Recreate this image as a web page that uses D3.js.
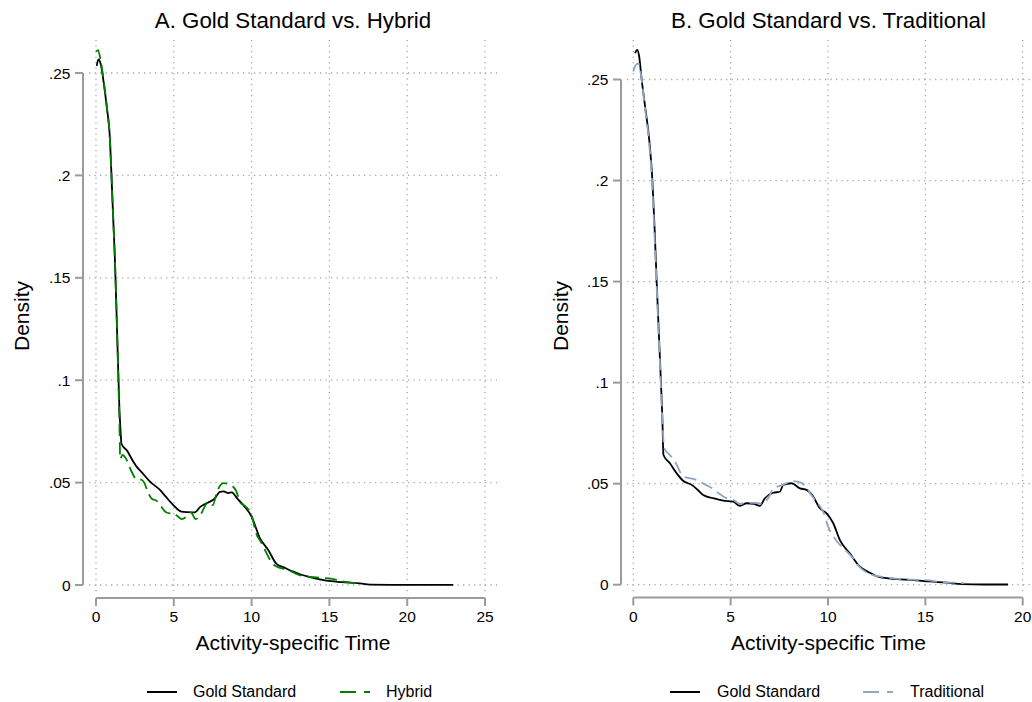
<!DOCTYPE html>
<html>
<head>
<meta charset="utf-8">
<script src="https://cdn.jsdelivr.net/npm/d3@7"></script>
<style>
  body { margin: 0; background: #fff; }
  text { font-family: "Liberation Sans", Arial, sans-serif; fill: #000; }
</style>
</head>
<body>
<svg id="chart" width="1032" height="702"></svg>
<script>
// kernel density estimates, [time, density]
const goldA = [[0.05,0.2535],[0.15,0.2567],[0.3,0.2545],[0.5,0.245],[0.69,0.2335],[0.9,0.217],[1.0,0.199],
  [1.1,0.18],[1.21,0.16],[1.37,0.12],[1.5,0.087],[1.6,0.0725],[1.63,0.069],[2.0,0.0655],[2.3,0.0615],
  [2.61,0.0578],[3.0,0.0545],[3.47,0.0505],[4.11,0.0464],[4.5,0.043],[4.97,0.039],[5.5,0.0358],[5.9,0.0356],
  [6.36,0.0355],[6.68,0.038],[7.0,0.0395],[7.33,0.0407],[7.6,0.042],[7.97,0.0455],[8.2,0.0457],[8.5,0.0449],
  [8.72,0.0452],[9.1,0.042],[9.47,0.039],[10.0,0.0334],[10.54,0.0228],[11.07,0.0171],[11.6,0.0103],
  [12.1,0.0085],[12.68,0.0065],[13.2,0.005],[13.75,0.0038],[14.8,0.0021],[15.8,0.0014],[16.97,0.0008],
  [17.6,0.0002],[19,0.0001],[21,0.0001],[22.96,0.0001]];
const hybridA = [[0.0,0.2604],[0.13,0.2612],[0.3,0.256],[0.5,0.246],[0.69,0.234],[0.9,0.217],[1.0,0.199],
  [1.1,0.18],[1.21,0.16],[1.37,0.12],[1.48,0.087],[1.53,0.07],[1.55,0.0615],[1.7,0.0635],[1.86,0.0625],
  [2.29,0.0553],[2.6,0.0516],[2.9,0.0515],[3.1,0.05],[3.36,0.0448],[3.6,0.042],[3.79,0.0415],[4.0,0.0405],
  [4.22,0.038],[4.5,0.0355],[4.76,0.035],[5.0,0.0352],[5.18,0.034],[5.5,0.0322],[5.83,0.0334],[6.1,0.0355],
  [6.4,0.0322],[6.7,0.034],[7.0,0.0385],[7.2,0.0405],[7.5,0.039],[7.8,0.046],[8.2,0.0497],[8.6,0.049],
  [9.0,0.046],[9.3,0.04],[9.5,0.039],[10.0,0.034],[10.3,0.025],[10.6,0.021],[10.8,0.018],[11.4,0.01],
  [11.6,0.009],[12.3,0.0075],[13.0,0.005],[14.0,0.0038],[15.2,0.003],[15.7,0.002],[16.7,0.0008],[17.0,0.0005]];
const goldB = [[0.09,0.263],[0.2,0.2647],[0.3,0.2615],[0.43,0.25],[0.6,0.237],[0.82,0.22],[0.98,0.2],
  [1.1,0.175],[1.2,0.15],[1.31,0.125],[1.42,0.1],[1.5,0.08],[1.54,0.0652],[1.55,0.0642],[1.88,0.0601],
  [2.23,0.0551],[2.57,0.0513],[3.0,0.0494],[3.3,0.047],[3.59,0.0444],[4.1,0.0428],[4.62,0.0416],[5.13,0.0411],
  [5.48,0.039],[5.82,0.0403],[6.2,0.04],[6.5,0.039],[6.76,0.0428],[7.19,0.0455],[7.53,0.046],[7.7,0.0494],
  [8.13,0.0502],[8.56,0.0477],[8.9,0.0469],[9.24,0.0436],[9.58,0.0378],[9.93,0.0353],[10.27,0.0304],
  [10.61,0.0221],[11.12,0.0155],[11.64,0.0089],[12.15,0.0059],[12.66,0.0037],[13.5,0.0028],[14.37,0.0023],
  [15.2,0.0016],[16.1,0.001],[16.9,0.0003],[18,0.0001],[19.25,0.0001]];
const tradB = [[0.0,0.254],[0.12,0.257],[0.26,0.258],[0.4,0.252],[0.6,0.236],[0.8,0.22],[0.96,0.2],
  [1.08,0.175],[1.19,0.15],[1.3,0.125],[1.41,0.1],[1.5,0.08],[1.56,0.07],[1.63,0.0667],[1.8,0.065],
  [2.14,0.0609],[2.57,0.0535],[2.9,0.0527],[3.2,0.052],[3.7,0.0495],[4.0,0.048],[4.28,0.046],[4.8,0.0428],
  [5.13,0.042],[5.48,0.04],[5.8,0.0405],[6.3,0.0405],[6.6,0.04],[7.0,0.044],[7.2,0.048],[7.6,0.049],
  [8.2,0.0513],[8.6,0.0505],[8.9,0.048],[9.2,0.0436],[9.5,0.04],[9.8,0.035],[10.0,0.029],[10.5,0.021],
  [10.9,0.017],[11.3,0.013],[11.6,0.009],[12.0,0.006],[12.7,0.004],[13.5,0.003],[14.2,0.0025],[15.0,0.0023],
  [15.8,0.0013],[16.9,0.0008],[17.0,0.0007]];

const yTicks = [0, 0.05, 0.1, 0.15, 0.2, 0.25];
const yTickLabels = ["0", ".05", ".1", ".15", ".2", ".25"];
const xTicksA = [0, 5, 10, 15, 20, 25];
const xTicksB = [0, 5, 10, 15, 20];

const gridColor = "#a9a9a9", axisColor = "#9b9b9b";
const green = "#008000", ltblue = "#8fa5c4";

const svg = d3.select("#chart");

const panels = [
  { title: "A. Gold Standard vs. Hybrid", gold: goldA, other: hybridA, otherName: "Hybrid", color: green,
    xTicks: xTicksA, xMax: 25, x0: 96, x1: 485, y0: 585, y1: 73, axisX: 83, axisY: 598,
    regionL: 89, regionR: 497, titleX: 29,
    legend: { line1: 147, text1: 193, line2: 340, text2: 386 } },
  { title: "B. Gold Standard vs. Traditional", gold: goldB, other: tradB, otherName: "Traditional", color: ltblue,
    xTicks: xTicksB, xMax: 20, x0: 633.3, x1: 1022.7, y0: 584.7, y1: 79.5, axisX: 621, axisY: 597.5,
    regionL: 627, regionR: 1030, titleX: 568,
    legend: { line1: 670, text1: 717, line2: 863, text2: 910 } }
];

panels.forEach(p => {
  const x = d3.scaleLinear().domain([0, p.xMax]).range([p.x0, p.x1]);
  const y = d3.scaleLinear().domain([0, 0.25]).range([p.y0, p.y1]);
  const g = svg.append("g");
  const top = 40, bottom = 592;
  const cx = (p.regionL + p.regionR) / 2;

  // dotted grid
  g.selectAll(".hgrid").data(yTicks).enter().append("line")
    .attr("x1", p.regionL).attr("x2", p.regionR)
    .attr("y1", d => y(d)).attr("y2", d => y(d))
    .attr("stroke", gridColor).attr("stroke-width", 1.3).attr("stroke-dasharray", "1.3,4.2");
  g.selectAll(".vgrid").data(p.xTicks).enter().append("line")
    .attr("x1", d => x(d)).attr("x2", d => x(d))
    .attr("y1", top).attr("y2", bottom)
    .attr("stroke", gridColor).attr("stroke-width", 1.3).attr("stroke-dasharray", "1.3,4.2");

  // y axis
  g.append("line").attr("x1", p.axisX).attr("x2", p.axisX).attr("y1", y(0.25)).attr("y2", y(0))
    .attr("stroke", axisColor).attr("stroke-width", 2);
  g.selectAll(".ytick").data(yTicks).enter().append("line")
    .attr("x1", p.axisX - 8).attr("x2", p.axisX).attr("y1", d => y(d)).attr("y2", d => y(d))
    .attr("stroke", axisColor).attr("stroke-width", 2);
  g.selectAll(".ylab").data(yTicks).enter().append("text")
    .attr("x", p.axisX - 12.5).attr("y", d => y(d)).attr("dy", "0.36em")
    .attr("text-anchor", "end").style("font-size", "15.5px")
    .text((d, i) => yTickLabels[i]);

  // x axis
  g.append("line").attr("x1", x(0)).attr("x2", x(p.xMax)).attr("y1", p.axisY).attr("y2", p.axisY)
    .attr("stroke", axisColor).attr("stroke-width", 2);
  g.selectAll(".xtick").data(p.xTicks).enter().append("line")
    .attr("x1", d => x(d)).attr("x2", d => x(d)).attr("y1", p.axisY).attr("y2", p.axisY + 8)
    .attr("stroke", axisColor).attr("stroke-width", 2);
  g.selectAll(".xlab").data(p.xTicks).enter().append("text")
    .attr("x", d => x(d)).attr("y", 622).attr("text-anchor", "middle").style("font-size", "15.5px")
    .text(d => d);

  // titles
  g.append("text").attr("x", cx).attr("y", 28).attr("text-anchor", "middle")
    .style("font-size", "22.3px").text(p.title);
  g.append("text").attr("x", cx).attr("y", 650).attr("text-anchor", "middle")
    .style("font-size", "21px").text("Activity-specific Time");
  g.append("text").attr("transform", `translate(${p.titleX},316) rotate(-90)`)
    .attr("text-anchor", "middle").style("font-size", "21px").text("Density");

  // curves
  const line = d3.line().x(d => x(d[0])).y(d => y(d[1])).curve(d3.curveMonotoneX);
  g.append("path").datum(p.gold).attr("d", line)
    .attr("fill", "none").attr("stroke", "#000").attr("stroke-width", 1.8);
  g.append("path").datum(p.other).attr("d", line)
    .attr("fill", "none").attr("stroke", p.color).attr("stroke-width", 1.8)
    .attr("stroke-dasharray", "12,6");

  // legend
  const ly = 692;
  g.append("line").attr("x1", p.legend.line1).attr("x2", p.legend.line1 + 30).attr("y1", ly).attr("y2", ly)
    .attr("stroke", "#000").attr("stroke-width", 2);
  g.append("text").attr("x", p.legend.text1).attr("y", 697).style("font-size", "16px").text("Gold Standard");
  g.append("line").attr("x1", p.legend.line2).attr("x2", p.legend.line2 + 30).attr("y1", ly).attr("y2", ly)
    .attr("stroke", p.color).attr("stroke-width", 2).attr("stroke-dasharray", "16,8");
  g.append("text").attr("x", p.legend.text2).attr("y", 697).style("font-size", "16px").text(p.otherName);
});
</script>
</body>
</html>
